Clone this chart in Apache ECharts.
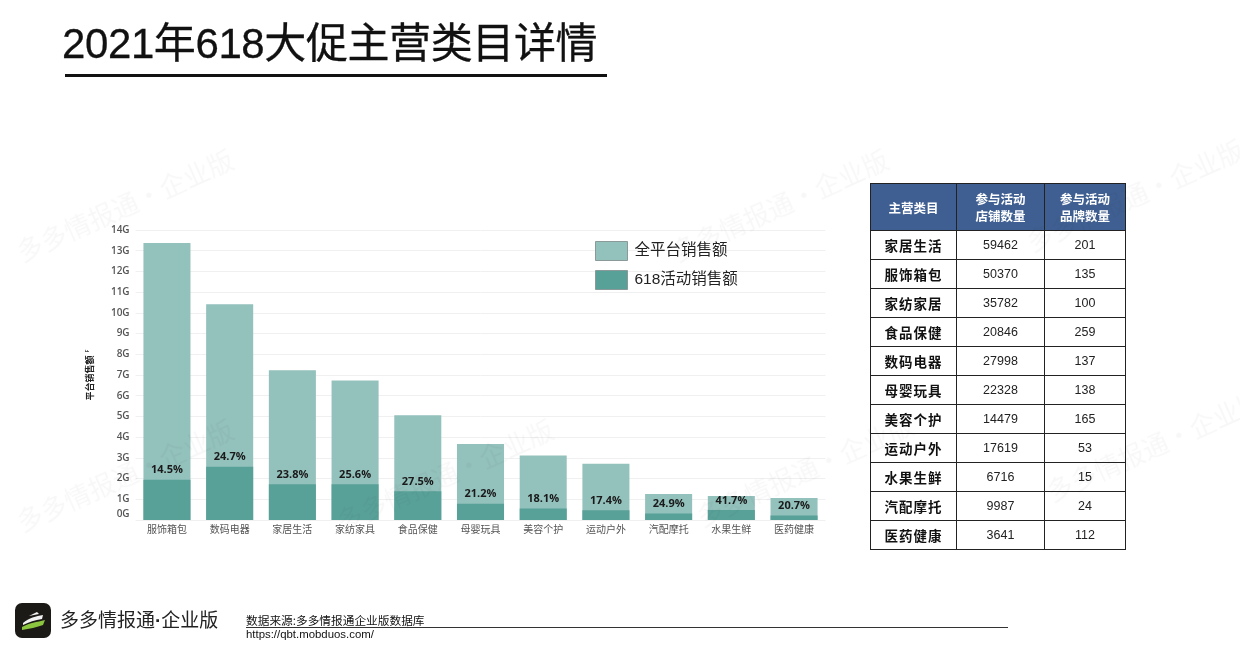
<!DOCTYPE html>
<html>
<head>
<meta charset="utf-8">
<script src="https://cdn.jsdelivr.net/npm/echarts@6/dist/echarts.min.js"></script>
<style>
  html, body { margin: 0; padding: 0; background: #fff; }
  body { width: 1240px; height: 662px; position: relative; overflow: hidden;
         font-family: "Liberation Sans", Arial, "Noto Sans CJK SC", sans-serif; }
  #chart { position: absolute; left: 0; top: 0; width: 1240px; height: 662px; }
  #title { position: absolute; left: 62px; top: 9px; font-size: 42px; color: #111;
           font-family: "Liberation Sans", Arial, "Noto Sans CJK SC", sans-serif; letter-spacing: -0.4px; white-space: nowrap;
           -webkit-text-stroke: 0.3px #111; }
  #titleLine { position: absolute; left: 65px; top: 74px; width: 542px; height: 3px; background: #111; }
  #tbl { position: absolute; left: 870px; top: 183px; border-collapse: collapse; }
  #tbl td, #tbl th { border: 1.2px solid #222; text-align: center; padding: 0; }
  #tbl th { background: #3f5f92; color: #fff; font-size: 12.5px; font-weight: bold; height: 46px; line-height: 17px;
            font-family: "Noto Sans CJK SC", sans-serif; }
  #tbl td { height: 28px; font-size: 12.5px; color: #222; font-family: "Liberation Sans", Arial, sans-serif; }
  #tbl td.c { font-weight: bold; font-size: 13.5px; color: #111; font-family: "Noto Sans CJK SC", sans-serif; letter-spacing: 1px; }
  #logo { position: absolute; left: 15px; top: 603px; width: 36px; height: 35px; }
  #brand { position: absolute; left: 60px; top: 605px; font-size: 19px; color: #222; font-family: "Noto Sans CJK SC", sans-serif; white-space: nowrap; }
  #brand .d { font-family: "Liberation Sans", Arial, sans-serif; font-weight: bold; }
  #src { position: absolute; left: 246px; top: 613px; width: 762px; border-bottom: 1px solid #333; font-size: 11.7px; color: #111;
         font-family: "Noto Sans CJK SC", sans-serif; line-height: 14px; }
  #url { position: absolute; left: 246px; top: 628px; font-size: 11.4px; color: #111; font-family: "Liberation Sans", Arial, sans-serif; }
  .wm { position: absolute; font-size: 26px; color: rgba(0,0,0,0.03); transform: rotate(-24deg); transform-origin: left top;
        white-space: nowrap; font-family: "Noto Sans CJK SC", sans-serif; pointer-events: none; }
</style>
</head>
<body>
<div id="chart"></div>
<div id="title">2021年618大促主营类目详情</div>
<div id="titleLine"></div>
<table id="tbl"></table>
<svg id="logo" viewBox="0 0 36 35">
  <rect x="0" y="0" width="36" height="35" rx="7" fill="#1c1a17"/>
  <path d="M7 24 C14 20 22 19 30 17 L28 22 C22 24 14 26 7 27 Z" fill="#8cc63f"/>
  <path d="M8 20 C14 15 21 13 28 12 L27 16 C20 17 14 19 8 22 Z" fill="#f2f2f2"/>
  <path d="M14 13 L22 9 L24 11 Z" fill="#f2f2f2"/>
</svg>
<div id="brand">多多情报通<span class="d">·</span>企业版</div>
<div id="src">数据来源:多多情报通企业版数据库</div>
<div id="url">https://qbt.mobduos.com/</div>
<div class="wm" style="left:10px;top:235px;">多多情报通·企业版</div>
<div class="wm" style="left:665px;top:235px;">多多情报通·企业版</div>
<div class="wm" style="left:1020px;top:225px;">多多情报通·企业版</div>
<div class="wm" style="left:10px;top:505px;">多多情报通·企业版</div>
<div class="wm" style="left:330px;top:505px;">多多情报通·企业版</div>
<div class="wm" style="left:690px;top:500px;">多多情报通·企业版</div>
<div class="wm" style="left:1040px;top:475px;">多多情报通·企业版</div>
<script>
// ---- Chart data ----
const categories = ['服饰箱包', '数码电器', '家居生活', '家纺家具', '食品保健', '母婴玩具', '美容个护', '运动户外', '汽配摩托', '水果生鲜', '医药健康'];
const totalSales = [13.37, 10.42, 7.23, 6.73, 5.06, 3.67, 3.11, 2.71, 1.26, 1.16, 1.06];
const eventSales = [1.94, 2.57, 1.72, 1.72, 1.39, 0.78, 0.56, 0.47, 0.31, 0.48, 0.22];
const eventShare = ['14.5%', '24.7%', '23.8%', '25.6%', '27.5%', '21.2%', '18.1%', '17.4%', '24.9%', '41.7%', '20.7%'];
const seriesNames = ['全平台销售额', '618活动销售额'];
const yTicks = [0, 1, 2, 3, 4, 5, 6, 7, 8, 9, 10, 11, 12, 13, 14];

// ---- Table data ----
const tableHeader = ['主营类目', '参与活动<br>店铺数量', '参与活动<br>品牌数量'];
const tableCats = ['家居生活', '服饰箱包', '家纺家居', '食品保健', '数码电器', '母婴玩具', '美容个护', '运动户外', '水果生鲜', '汽配摩托', '医药健康'];
const tableShops = [59462, 50370, 35782, 20846, 27998, 22328, 14479, 17619, 6716, 9987, 3641];
const tableBrands = [201, 135, 100, 259, 137, 138, 165, 53, 15, 24, 112];

// build table
const tbl = document.getElementById('tbl');
const colW = [85, 87, 80];
let html = '<tr>' + tableHeader.map((h, i) => `<th style="width:${colW[i]}px">${h}</th>`).join('') + '</tr>';
tableCats.forEach((c, i) => {
  html += `<tr><td class="c">${c}</td><td>${tableShops[i]}</td><td>${tableBrands[i]}</td></tr>`;
});
tbl.innerHTML = html;

const chart = echarts.init(document.getElementById('chart'), null, { renderer: 'canvas' });
const axisFont = '"Open Sans", "Noto Sans CJK SC", sans-serif';
chart.setOption({
  animation: false,
  legend: {
    orient: 'vertical',
    left: 595, top: 241, padding: 0,
    itemWidth: 32, itemHeight: 19, itemGap: 9,
    textStyle: { fontSize: 15.5, color: '#222', fontFamily: '"Liberation Sans", Arial, "Noto Sans CJK SC", sans-serif', padding: [0, 0, 0, 2] },
    data: seriesNames.map(n => ({ name: n, itemStyle: { borderColor: '#8a9a98', borderWidth: 1 } })),
    icon: 'rect'
  },
  grid: { left: 135.6, right: 414.6, top: 230, bottom: 142, containLabel: false },
  xAxis: {
    type: 'category',
    data: categories,
    axisLine: { show: false },
    axisTick: { show: false },
    axisLabel: { color: '#555', fontSize: 10, margin: 5, fontFamily: axisFont, interval: 0 }
  },
  yAxis: {
    type: 'value',
    min: yTicks[0], max: yTicks[yTicks.length - 1], interval: 1,
    name: '平台销售额{s|F}',
    nameLocation: 'middle',
    nameGap: 42,
    nameRotate: 90,
    nameTextStyle: { fontSize: 9, color: '#222', fontWeight: 'bold', fontFamily: '"Noto Sans CJK SC", sans-serif',
      rich: { s: { fontSize: 5, color: '#444', padding: [0, 0, 4, 3] } } },
    axisLine: { show: false },
    axisTick: { show: false },
    splitLine: { lineStyle: { color: '#f0f0f0', width: 1 } },
    axisLabel: {
      color: '#555', fontSize: 10, fontWeight: 600, margin: 6, fontFamily: axisFont,
      formatter: v => v === 0 ? '{z|0G}' : v + 'G',
      rich: { z: { color: '#555', fontSize: 10, fontWeight: 600, fontFamily: axisFont, padding: [0, 0, 12, 0] } }
    }
  },
  series: [
    {
      name: seriesNames[0], type: 'bar', data: totalSales, barWidth: '75%', barGap: '-100%',
      itemStyle: { color: '#93c1bc' }, z: 2
    },
    {
      name: seriesNames[1], type: 'bar', data: eventSales, barWidth: '75%',
      itemStyle: { color: '#58a199' }, z: 3,
      label: {
        show: true, position: 'top', distance: 4,
        formatter: p => eventShare[p.dataIndex],
        color: '#1a1a1a', fontSize: 11, fontWeight: 'bold', fontFamily: axisFont
      }
    }
  ]
});
</script>
</body>
</html>
